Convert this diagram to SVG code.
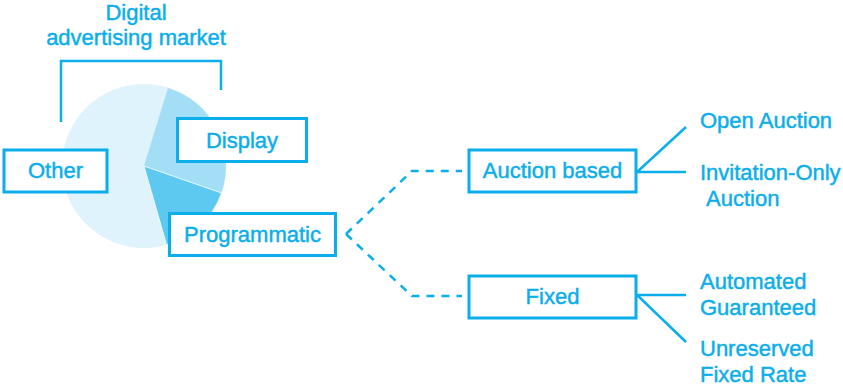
<svg xmlns="http://www.w3.org/2000/svg" width="843" height="386" viewBox="0 0 843 386">
  <style>
    .box { fill: #ffffff; stroke: #0aaeea; stroke-width: 3; }
    .lbl { font-family: "Liberation Sans", Arial, sans-serif; font-size: 22px; fill: #0aaeea; stroke: #0aaeea; stroke-width: 0.45; }
    .mid { text-anchor: middle; }
    .solid { fill: none; stroke: #0aaeea; stroke-width: 2.5; }
    .dash { fill: none; stroke: #0aaeea; stroke-width: 2.5; stroke-dasharray: 8 7; }
  </style>

  <!-- Market title and bracket -->
  <g id="title">
    <text class="lbl mid" x="136" y="20">Digital</text>
    <text class="lbl mid" x="136" y="45">advertising market</text>
    <path class="solid" d="M61,122 V61 H221 V90" stroke-width="3"/>
  </g>

  <!-- Pie chart: centre (144,166), r 82 -->
  <g id="pie">
    <circle cx="144" cy="166" r="82" fill="#def3fb"/>
    <path d="M144,166 L168,88 A82,82 0 0 1 221.5,193 Z" fill="#a2dff6"/>
    <path d="M144,166 L221.5,193 A82,82 0 0 1 166.6,244.8 Z" fill="#5dc9f1" stroke="#ffffff" stroke-width="0.8"/>
  </g>

  <!-- Connectors -->
  <g id="connectors">
    <path class="dash" d="M346,234 L412,171 H462"/>
    <path class="dash" d="M346,234 L412,296 H462"/>
    <path class="solid" d="M686,127 L637,172 H686"/>
    <path class="solid" d="M686,295 H637 L686,342"/>
  </g>

  <g id="node-other">
    <rect class="box" x="4" y="150" width="103" height="42"/>
    <text class="lbl mid" x="55.5" y="178">Other</text>
  </g>

  <g id="node-display">
    <rect class="box" x="177.5" y="118.5" width="129" height="43"/>
    <text class="lbl mid" x="242" y="148">Display</text>
  </g>

  <g id="node-programmatic">
    <rect class="box" x="169.5" y="213.5" width="166" height="42"/>
    <text class="lbl mid" x="252.5" y="242">Programmatic</text>
  </g>

  <g id="node-auction">
    <rect class="box" x="469" y="150" width="167" height="42"/>
    <text class="lbl mid" x="552.5" y="178">Auction based</text>
  </g>

  <g id="node-fixed">
    <rect class="box" x="469" y="276" width="167" height="42"/>
    <text class="lbl mid" x="552.5" y="304">Fixed</text>
  </g>

  <g id="node-open-auction">
    <text class="lbl" x="700" y="128">Open Auction</text>
  </g>

  <g id="node-invitation-only">
    <text class="lbl" x="700" y="180">Invitation-Only</text>
    <text class="lbl" x="706" y="206">Auction</text>
  </g>

  <g id="node-automated-guaranteed">
    <text class="lbl" x="700" y="289">Automated</text>
    <text class="lbl" x="700" y="315">Guaranteed</text>
  </g>

  <g id="node-unreserved-fixed-rate">
    <text class="lbl" x="700" y="356">Unreserved</text>
    <text class="lbl" x="700" y="382">Fixed Rate</text>
  </g>
</svg>
